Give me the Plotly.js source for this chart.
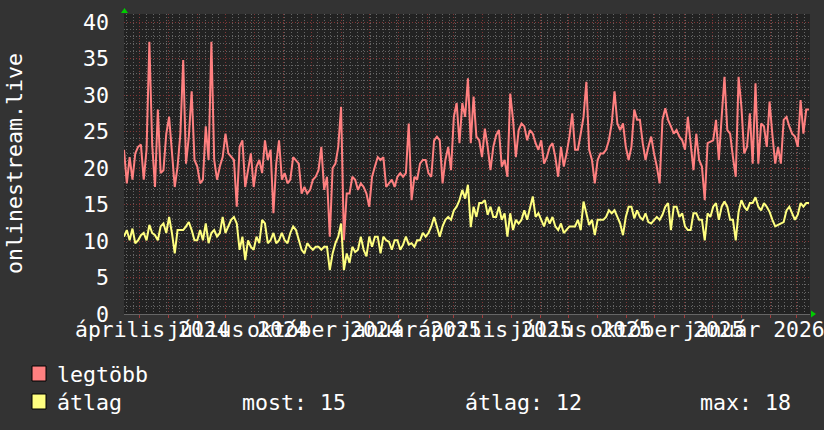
<!DOCTYPE html>
<html><head><meta charset="utf-8">
<script src="https://cdn.plot.ly/plotly-3.0.1.min.js"></script>
<style>html,body{margin:0;padding:0;background:#333333;}#chart{width:824px;height:430px;}</style>
</head><body><div id="chart"></div>
<script>
// ---- data ----
const startDate = '2024-03-15';
const endDate = '2026-03-15';
const stepDays = 3;
const seriesNames = ['legtöbb', 'átlag'];
const maxValues = [
22.5,17.9,21.5,18.4,22.0,22.9,23.2,18.4,22.5,37.3,
23.2,17.4,28.0,19.3,19.7,24.7,27.0,22.0,17.4,20.2,
24.7,34.8,20.6,24.3,30.5,21.1,20.2,17.9,18.4,25.7,
21.1,37.3,21.1,18.4,20.2,21.5,24.7,22.0,21.5,21.1,
14.7,22.9,23.8,17.4,19.7,22.0,17.4,20.2,21.1,19.3,
23.8,21.1,22.5,13.8,20.6,23.8,18.4,19.3,17.9,18.4,
21.5,21.1,20.6,16.5,17.4,16.5,17.0,18.4,18.8,19.7,
22.9,17.0,18.8,10.6,20.0,20.6,22.9,28.4,10.1,16.5,
16.5,18.8,18.4,17.0,17.9,17.4,16.5,14.7,18.8,20.2,
21.5,21.1,21.5,17.4,17.9,18.4,17.4,18.8,19.3,18.8,
19.3,26.1,15.6,18.8,18.4,20.6,21.1,21.1,19.3,18.8,
23.8,24.3,23.8,17.9,21.1,22.9,19.7,27.0,28.9,23.4,
28.9,27.0,32.3,23.4,29.8,24.3,23.8,21.5,25.4,22.9,
19.7,22.9,24.5,25.2,20.2,21.1,18.8,30.2,26.6,21.5,
25.2,26.1,25.7,23.8,25.2,24.7,23.4,22.5,23.8,20.6,
21.5,22.9,23.4,21.5,18.8,22.9,20.2,22.0,24.3,27.5,
22.5,22.5,24.7,27.0,31.8,22.5,21.1,17.9,21.1,22.0,
22.0,22.5,23.8,26.1,30.5,26.1,25.2,26.1,22.9,21.1,
22.9,28.0,26.6,26.6,23.4,21.1,22.9,24.3,22.0,20.2,
17.9,26.6,28.2,26.6,25.7,24.7,25.2,24.3,23.8,22.5,
27.0,22.9,19.7,24.7,21.1,20.2,15.6,23.4,23.6,23.8,
26.6,21.1,27.0,32.5,25.2,24.7,21.5,18.8,32.5,28.4,
22.0,22.9,27.5,20.6,31.6,20.6,26.1,25.7,22.9,29.1,
24.5,20.6,22.9,20.6,26.6,27.0,25.7,24.7,24.3,22.9,
29.3,24.7,28.0,28.0
];
const avgValues = [
10.6,11.5,10.1,11.7,9.7,10.1,10.8,11.1,10.1,12.2,
11.1,10.8,10.1,12.0,12.4,11.1,13.3,11.1,8.3,11.5,
11.5,11.5,12.0,12.6,11.5,10.1,10.1,11.5,10.1,12.4,
9.7,11.1,11.5,10.6,11.1,13.3,11.1,12.0,12.9,13.3,
12.4,8.8,10.6,7.4,10.1,9.2,8.8,10.6,9.7,12.9,
12.4,9.7,10.1,11.1,9.7,10.1,11.1,10.1,9.7,11.1,
12.0,11.5,10.1,8.8,8.3,9.7,9.2,8.8,9.2,9.2,
8.8,9.2,9.2,6.0,8.3,9.7,10.6,12.4,6.0,8.3,
7.0,9.2,8.5,8.8,10.6,8.8,7.9,10.6,9.2,10.6,
10.6,8.3,10.6,10.1,9.9,8.8,10.1,10.1,8.8,9.5,
10.6,9.5,9.7,9.2,10.1,10.1,11.1,10.6,11.1,12.0,
13.3,12.0,10.6,12.0,12.9,13.3,12.9,14.2,14.7,15.6,
17.0,15.8,17.7,11.9,14.7,13.3,15.2,15.2,15.6,13.6,
14.7,13.3,13.3,14.7,12.9,13.8,10.6,13.8,11.5,12.9,
12.4,12.9,14.2,12.9,14.7,16.1,13.3,13.8,12.9,12.0,
13.3,12.4,13.3,12.0,11.5,12.4,11.1,11.5,12.0,12.0,
12.0,12.9,11.5,15.4,13.8,12.2,12.9,10.8,12.9,12.9,
12.9,13.3,14.2,13.8,14.2,13.3,12.4,10.8,13.3,14.7,
14.7,13.1,14.2,13.3,12.9,13.8,12.6,12.4,12.9,13.3,
12.9,13.6,14.7,15.2,11.5,14.7,14.7,13.3,13.8,12.0,
11.5,11.5,13.8,13.8,12.9,12.9,10.1,13.8,13.3,14.7,
15.2,12.9,14.7,15.4,14.7,12.9,12.9,10.1,14.0,15.6,
14.7,14.2,15.2,15.2,16.0,14.7,14.2,15.2,14.7,14.0,
12.9,12.0,12.2,12.4,12.6,14.2,14.7,13.8,12.9,13.6,
15.2,14.7,15.2,15.2
];
const monthLabels = ['április 2024','július 2024','október 2024','január 2025','április 2025','július 2025','október 2025','január 2026'];
const monthLabelDates = ['2024-04-14','2024-07-14','2024-10-14','2025-01-14','2025-04-14','2025-07-14','2025-10-14','2026-01-14'];
const yTickValues = [0,5,10,15,20,25,30,35,40];
const yTitle = 'onlinestream.live';
const statLabels = ['most: 15','átlag: 12','max: 18'];

// ---- build ----
const DAY = 86400000;
const t0 = Date.parse(startDate + 'T00:00:00Z');
function isoAt(i){ return new Date(t0 + i*stepDays*DAY).toISOString().slice(0,16).replace('T',' '); }
const dates = maxValues.map((_, i) => isoAt(i));

const FONT = 'DejaVu Sans Mono';
const FS = 21.6;
const RED = '#ff8080', YEL = '#ffff80';
const gridMinor = '#646464', gridMajor = '#7e3636';
const DASH = '1px,2px';

const traces = [
  {x: dates, y: maxValues, name: seriesNames[0], type:'scatter', mode:'lines', line:{color:RED, width:2}},
  {x: dates, y: avgValues, name: seriesNames[1], type:'scatter', mode:'lines', line:{color:YEL, width:2}}
];

const PW = 686, PH = 300, PL = 124, PT = 14;
const px = v => (v - PL) / PW;          // pixel -> paper x
const py = v => (PT + PH - v) / PH;     // pixel -> paper y
const txt = {family:FONT, size:FS, color:'#ffffff'};
const txtX = {family:FONT, size:21.4, color:'#ffffff'};

const annotations = monthLabels.map((t, i) => ({
  text: t, x: monthLabelDates[i], xref:'x', y: py(329), yref:'paper',
  xanchor:'center', yanchor:'middle', showarrow:false, font:txtX
}));
annotations.push({text: yTitle, textangle:-90, x: px(14), y: 0.5, xref:'paper', yref:'paper',
  xanchor:'center', yanchor:'middle', showarrow:false, font:txt});
annotations.push({text: seriesNames[0], x: px(55), y: py(374), xref:'paper', yref:'paper', xanchor:'left', yanchor:'middle', showarrow:false, font:txt});
annotations.push({text: seriesNames[1], x: px(55), y: py(402), xref:'paper', yref:'paper', xanchor:'left', yanchor:'middle', showarrow:false, font:txt});
const statX = [240, 463, 698];
statLabels.forEach((s, i) => annotations.push({text: s, x: px(statX[i]), y: py(402), xref:'paper', yref:'paper', xanchor:'left', yanchor:'middle', showarrow:false, font:txt}));

const shapes = [
  {type:'rect', xref:'paper', yref:'paper', x0:px(32), x1:px(46), y0:py(381), y1:py(366), fillcolor:RED, line:{color:'#000', width:1}},
  {type:'rect', xref:'paper', yref:'paper', x0:px(32), x1:px(46), y0:py(409), y1:py(394), fillcolor:YEL, line:{color:'#000', width:1}},
  {type:'path', xref:'paper', yref:'paper', path:`M${px(121)},${py(13)} L${px(124.5)},${py(8)} L${px(128)},${py(13)} Z`, fillcolor:'#00cc00', line:{width:0}},
  {type:'path', xref:'paper', yref:'paper', path:`M${px(811)},${py(310.5)} L${px(816)},${py(314)} L${px(811)},${py(317.5)} Z`, fillcolor:'#00cc00', line:{width:0}}
];

const layout = {
  width: 824, height: 430,
  margin: {l:PL, r:824-PL-PW, t:PT, b:430-PT-PH, pad:0},
  paper_bgcolor:'#333333', plot_bgcolor:'#222222',
  showlegend:false,
  font:txt,
  xaxis:{type:'date', range:[startDate, endDate], showticklabels:false,
    ticks:'outside', ticklen:3, tickwidth:1, tickcolor:'#a03c3c', dtick:'M1', tick0:'2024-04-01',
    showgrid:true, gridcolor:gridMajor, griddash:DASH, gridwidth:1,
    minor:{dtick:7*DAY, tick0:'2024-03-18', showgrid:true, gridcolor:gridMinor, griddash:DASH, gridwidth:1},
    showline:true, linecolor:'#666666', linewidth:1, zeroline:false, fixedrange:true},
  yaxis:{range:[0, 41.1], tickmode:'array', tickvals:yTickValues, ticktext:yTickValues.map(String),
    showgrid:true, gridcolor:gridMajor, griddash:DASH, gridwidth:1,
    minor:{dtick:1, tick0:0, showgrid:true, gridcolor:gridMinor, griddash:DASH, gridwidth:1},
    ticks:'', ticklabelstandoff:14, tickfont:txt,
    zeroline:false, showline:false, fixedrange:true},
  annotations, shapes
};

Plotly.newPlot('chart', traces, layout, {staticPlot:true, displayModeBar:false});
</script>
</body></html>
